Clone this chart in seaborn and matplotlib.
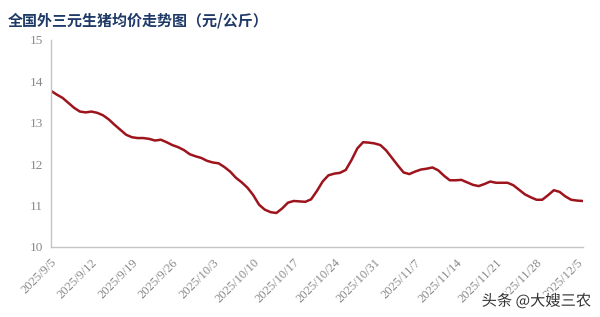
import numpy as np
import pandas as pd
import matplotlib
matplotlib.use("Agg")
import matplotlib.pyplot as plt
import matplotlib.patheffects as pe
import seaborn as sns

# ---- data ----
start_date = "2025-09-05"
prices = [
    13.77, 13.68, 13.60, 13.48, 13.36, 13.27, 13.25, 13.27, 13.24, 13.18,
    13.08, 12.95, 12.83, 12.71, 12.65, 12.63, 12.63, 12.61, 12.57, 12.59,
    12.53, 12.46, 12.41, 12.34, 12.24, 12.19, 12.15, 12.08, 12.04, 12.02,
    11.93, 11.82, 11.67, 11.56, 11.43, 11.25, 11.02, 10.90, 10.84, 10.82,
    10.93, 11.07, 11.11, 11.10, 11.09, 11.15, 11.35, 11.58, 11.73, 11.77,
    11.79, 11.86, 12.10, 12.38, 12.53, 12.52, 12.50, 12.46, 12.33, 12.15,
    11.97, 11.80, 11.76, 11.82, 11.87, 11.89, 11.92, 11.85, 11.72, 11.61,
    11.61, 11.62, 11.56, 11.50, 11.47, 11.52, 11.58, 11.55, 11.55, 11.55,
    11.49, 11.38, 11.27, 11.20, 11.14, 11.14, 11.25, 11.37, 11.33, 11.22,
    11.14, 11.12, 11.11,
]
tick_labels = ["2025/9/5", "2025/9/12", "2025/9/19", "2025/9/26", "2025/10/3",
               "2025/10/10", "2025/10/17", "2025/10/24", "2025/10/31", "2025/11/7",
               "2025/11/14", "2025/11/21", "2025/11/28", "2025/12/5"]
y_ticks = [10, 11, 12, 13, 14, 15]
title = "全国外三元生猪均价走势图（元/公斤）"
watermark = "头条 @大嫂三农"

dates = pd.date_range(start_date, periods=len(prices), freq="D")
df = pd.DataFrame({"date": dates, "price": prices})

sns.set_theme(style="white")
plt.rcParams["font.family"] = ["Liberation Serif", "Noto Sans CJK SC", "DejaVu Sans"]

fig = plt.figure(figsize=(6.0, 3.17), dpi=100)
ax = fig.add_axes([0.085, 0.221, 0.887, 0.653])

sns.lineplot(data=df, x="date", y="price", ax=ax, color="#9e141c", linewidth=1.8)

ax.set_ylim(10, 15)
ax.set_yticks(y_ticks)
ax.set_xlim(dates[0], dates[-1] + pd.Timedelta(hours=2))
tick_pos = [pd.Timestamp(start_date) + pd.Timedelta(days=7 * i) for i in range(len(tick_labels))]
ax.set_xticks(tick_pos)
ax.set_xticklabels(tick_labels, rotation=45, ha="right", rotation_mode="anchor")

ax.set_xlabel("")
ax.set_ylabel("")
for s in ["top", "right"]:
    ax.spines[s].set_visible(False)
for s in ["left", "bottom"]:
    ax.spines[s].set_color("#c4c4c4")
    ax.spines[s].set_linewidth(1.0)
ax.tick_params(axis="both", which="major", direction="out", length=4, width=1.0,
               color="#c4c4c4", labelcolor="#8a8a8a", labelsize=9.5, pad=2)
ax.tick_params(axis="x", labelsize=9, pad=3)
ax.grid(False)

fig.text(0.013, 0.935, title, fontsize=10.8, fontweight="bold", color="#1f3a68",
         family=["Noto Sans CJK SC", "DejaVu Sans"], va="center", ha="left")

fig.text(0.985, 0.05, watermark, fontsize=11, color="#333333",
         family=["Noto Sans CJK SC", "DejaVu Sans"], ha="right", va="center",
         path_effects=[pe.withStroke(linewidth=2.5, foreground="white")])

fig.savefig("out.png", dpi=100)
